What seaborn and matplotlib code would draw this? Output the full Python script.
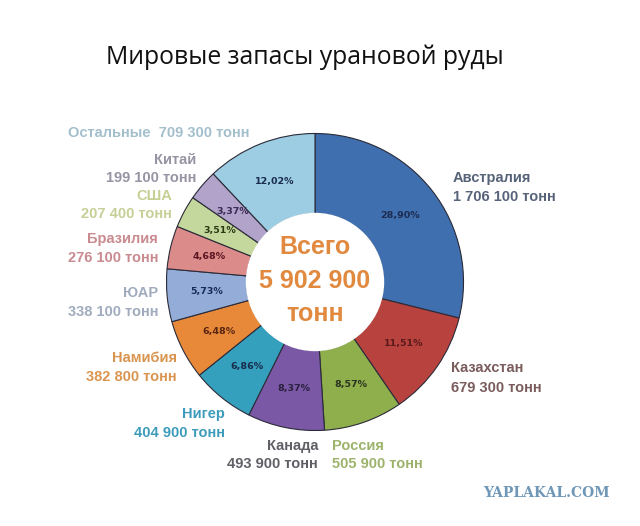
import matplotlib.pyplot as plt
import seaborn as sns
from matplotlib.patches import Circle

countries = ['Австралия', 'Казахстан', 'Россия', 'Канада', 'Нигер', 'Намибия',
             'ЮАР', 'Бразилия', 'США', 'Китай', 'Остальные']
tonnes = [1706100, 679300, 505900, 493900, 404900, 382800,
          338100, 276100, 207400, 199100, 709300]
total = 5902900

wedge_colors = ['#3f6fae', '#b8423e', '#8fae4c', '#7a58a5', '#35a0be', '#e8893a',
                '#93acd8', '#da8b8a', '#c4d79c', '#b2a3ca', '#9ccde2']
pct_colors = ['#1d2b52', '#5a1a1a', '#2a3320', '#2b2040', '#1a2a4a', '#5a2510',
              '#1a2a5a', '#5a1520', '#2a3a15', '#3a2a55', '#1a2a50']
label_colors = ['#566378', '#7a5c5c', '#9cb36b', '#5f5f66', '#3d9cbb', '#d99550',
                '#a0abbe', '#c98a90', '#c6cf95', '#9893a3', '#a3bfcc']

# label anchors in pixels: (x, y of first line, y of second line, ha)
label_pos = [(453, 178, 197, 'left'), (451, 368, 388, 'left'), (332, 446, 464, 'left'),
             (318, 446, 464, 'right'), (225, 414, 433, 'right'), (177, 358, 377, 'right'),
             (158, 293, 312, 'right'), (158, 239, 258, 'right'), (172, 196, 214, 'right'),
             (196, 160, 178, 'right'), (250, 133, None, 'right')]

sns.set_theme(style='white')
W, H = 640, 526
fig = plt.figure(figsize=(W / 100, H / 100), dpi=100)
fig.patch.set_facecolor('white')

cx, cy, r = 315, 282, 150
ax = fig.add_axes([(cx - r) / W, (H - cy - r) / H, 2 * r / W, 2 * r / H])
inner = 0.46

wedges, _, autotexts = ax.pie(
    tonnes, colors=wedge_colors, startangle=90, counterclock=False, radius=1,
    autopct=lambda p: f'{p:.2f}%'.replace('.', ','), pctdistance=0.73,
    wedgeprops=dict(width=1 - inner, edgecolor='#2b2b38', linewidth=0.8),
    textprops=dict(fontsize=6.8, fontweight='bold', family='DejaVu Sans'))
for t, c in zip(autotexts, pct_colors):
    t.set_color(c)
ax.add_patch(Circle((0, 0), inner + 0.006, facecolor='white', edgecolor='none', zorder=5))
ax.set_xlim(-1.01, 1.01)
ax.set_ylim(-1.01, 1.01)
ax.set_aspect('equal')
ax.axis('off')

ax.text(0, 0.01, f'Всего\n{total:,}\nтонн'.replace(',', ' '), ha='center', va='center',
        fontsize=18, fontweight='bold', color='#e0893f', linespacing=1.5,
        family='Liberation Sans', zorder=6)

lab_font = dict(family=['Liberation Sans', 'DejaVu Sans'], fontsize=10.5, fontweight='bold')
for name, val, col, (x, y1, y2, ha) in zip(countries, tonnes, label_colors, label_pos):
    val_txt = f'{val:,} тонн'.replace(',', ' ')
    if y2 is None:
        fig.text(x / W, 1 - y1 / H, f'{name}  {val_txt}', ha=ha, va='center', color=col, **lab_font)
    else:
        fig.text(x / W, 1 - y1 / H, name, ha=ha, va='center', color=col, **lab_font)
        fig.text(x / W, 1 - y2 / H, val_txt, ha=ha, va='center', color=col, **lab_font)

fig.text(305 / W, 1 - 57 / H, 'Мировые запасы урановой руды', ha='center', va='center',
         fontsize=17.8, color='#111111', family='Open Sans')
fig.text(546 / W, 1 - 493 / H, 'YAPLAKAL.COM', ha='center', va='center',
         fontsize=10, fontweight='bold', color='#6f97b8', family='DejaVu Serif')

fig.savefig('out.png', dpi=100, facecolor='white')
